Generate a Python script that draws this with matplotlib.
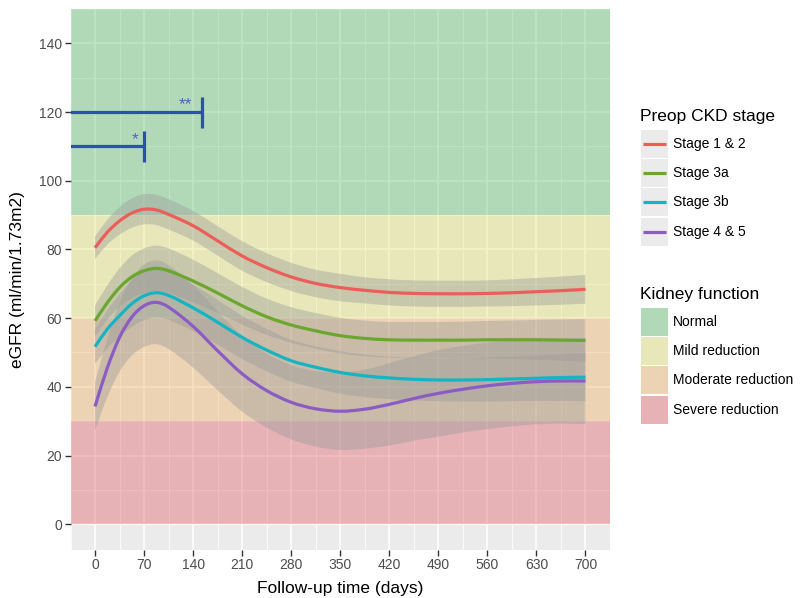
import matplotlib
matplotlib.use("Agg")
import matplotlib.pyplot as plt
from matplotlib.patches import Rectangle, PathPatch
from matplotlib.lines import Line2D
from matplotlib.path import Path
import numpy as np

plt.rcParams['font.family'] = ['Liberation Sans', 'DejaVu Sans']

# ---- data -------------------------------------------------------------
days = [0, 17.5, 35, 52.5, 70, 87.5, 105, 140, 175, 210, 245, 280, 315, 350,
        385, 420, 455, 490, 525, 560, 595, 630, 665, 700]

stage_names = ["Stage 1 & 2", "Stage 3a", "Stage 3b", "Stage 4 & 5"]
stage_colors = ["#EB5E5A", "#6BA72E", "#14B4C3", "#8A5CC4"]

egfr_stage12 = [80.5, 85.0, 88.3, 90.6, 91.7, 91.5, 90.2, 86.9, 82.5, 78.1, 74.7, 72.0,
                70.1, 68.9, 68.1, 67.5, 67.2, 67.1, 67.1, 67.2, 67.4, 67.7, 68.0, 68.4]
egfr_stage3a = [59.2, 64.5, 68.9, 72.0, 73.8, 74.5, 73.8, 70.8, 67.3, 63.6, 60.4, 58.0,
                56.3, 54.9, 54.1, 53.7, 53.6, 53.6, 53.6, 53.7, 53.7, 53.7, 53.6, 53.5]
egfr_stage3b = [51.7, 56.8, 60.7, 64.2, 66.5, 67.4, 66.6, 63.0, 58.8, 54.4, 50.7, 47.6,
                45.7, 44.2, 43.2, 42.6, 42.2, 42.0, 42.0, 42.1, 42.3, 42.5, 42.7, 42.8]
egfr_stage45 = [34.3, 45.5, 54.4, 60.3, 63.6, 64.6, 63.2, 57.6, 50.5, 43.8, 38.9, 35.5,
                33.6, 32.9, 33.5, 34.9, 36.6, 38.1, 39.3, 40.3, 41.0, 41.5, 41.7, 41.7]

# half-width of the 95% confidence band around each smooth
ci_stage12 = [3.3, 3.6, 4.0, 4.3, 4.4, 4.4, 4.4, 4.3, 4.3, 4.3, 4.2, 4.1,
              4.0, 4.0, 3.8, 3.8, 3.8, 3.8, 3.8, 3.8, 3.9, 4.0, 4.1, 4.2]
ci_stage3a = [4.5, 5.0, 5.6, 6.2, 6.5, 6.6, 6.5, 6.2, 5.8, 5.5, 5.3, 5.2,
              5.2, 5.2, 5.2, 5.2, 5.3, 5.3, 5.4, 5.5, 5.6, 5.8, 6.0, 6.2]
ci_stage3b = [5.0, 5.6, 6.2, 6.8, 7.1, 7.2, 7.1, 6.8, 6.5, 6.3, 6.2, 6.1,
              6.1, 6.2, 6.2, 6.2, 6.2, 6.2, 6.3, 6.4, 6.5, 6.6, 6.8, 7.0]
ci_stage45 = [7.0, 8.5, 10.0, 11.2, 12.0, 12.2, 12.2, 12.0, 11.5, 11.0, 10.8, 10.8,
              11.0, 11.3, 11.5, 12.0, 12.3, 12.6, 12.6, 12.6, 12.5, 12.4, 12.4, 12.6]

series = [egfr_stage12, egfr_stage3a, egfr_stage3b, egfr_stage45]
cis = [ci_stage12, ci_stage3a, ci_stage3b, ci_stage45]

# kidney function zones (eGFR ranges)
zone_names = ["Normal", "Mild reduction", "Moderate reduction", "Severe reduction"]
zone_lo = [90, 60, 30, 0]
zone_hi = [200, 90, 60, 30]
zone_colors = ["#48BA56", "#E2E25F", "#EEA94E", "#DD4854"]
zone_alpha = 0.35

# significance brackets: end day, eGFR level, label and label position
bracket_end = [152, 70]
bracket_level = [120, 110]
bracket_label = ["**", "*"]
bracket_label_day = [129, 57]

x_ticks = [0, 70, 140, 210, 280, 350, 420, 490, 560, 630, 700]
y_ticks = [0, 20, 40, 60, 80, 100, 120, 140]


def smooth_segments(x, y):
    """Cubic Bezier segments passing through (x, y), tangents from neighbours."""
    x = np.asarray(x, float)
    y = np.asarray(y, float)
    n = len(x)
    m = np.empty(n)
    m[1:-1] = (y[2:] - y[:-2]) / (x[2:] - x[:-2])
    m[0] = (y[1] - y[0]) / (x[1] - x[0])
    m[-1] = (y[-1] - y[-2]) / (x[-1] - x[-2])
    verts = [(x[0], y[0])]
    codes = [Path.MOVETO]
    for i in range(n - 1):
        h = x[i + 1] - x[i]
        verts += [(x[i] + h / 3, y[i] + m[i] * h / 3),
                  (x[i + 1] - h / 3, y[i + 1] - m[i + 1] * h / 3),
                  (x[i + 1], y[i + 1])]
        codes += [Path.CURVE4] * 3
    return verts, codes


# ---- figure -------------------------------------------------------------
W, H = 803, 598
fig = plt.figure(figsize=(W / 100, H / 100), dpi=100)
fig.patch.set_facecolor("white")


def fx(px):
    return px / W


def fy(py):
    return 1 - py / H


ax = fig.add_axes([fx(70.5), fy(550), fx(610) - fx(70.5), fy(9) - fy(550)])
ax.set_facecolor("#EBEBEB")
ax.set_xlim(-35, 735)
ax.set_ylim(-7.5, 150)

ax.set_xticks(x_ticks)
ax.set_yticks(y_ticks)
ax.set_xticks([t + 35 for t in x_ticks[:-1]] + [-35 + 0.001, 735 - 0.001], minor=True)
ax.set_yticks([10, 30, 50, 70, 90, 110, 130, 150 - 0.001], minor=True)
ax.grid(which="major", color="white", linewidth=1.1, zorder=0)
ax.grid(which="minor", color="white", linewidth=0.55, zorder=0)
ax.set_axisbelow(True)
for s in ax.spines.values():
    s.set_visible(False)
ax.tick_params(which="major", length=4, width=1, color="#333333",
               labelcolor="#4D4D4D", labelsize=10, pad=2)
ax.tick_params(which="minor", length=0)

# zones
for lo, hi, c in zip(zone_lo, zone_hi, zone_colors):
    ax.axhspan(lo, hi, color=c, alpha=zone_alpha, lw=0, zorder=1)

# confidence ribbons and smooth lines
d = np.array(days, float)
for vals, ci in zip(series, cis):
    v = np.array(vals)
    w = np.array(ci)
    up_v, up_c = smooth_segments(d, v + w)
    lo_v, lo_c = smooth_segments(d[::-1], (v - w)[::-1])
    verts = up_v + lo_v + [up_v[0]]
    codes = up_c + [Path.LINETO] + lo_c[1:] + [Path.CLOSEPOLY]
    ax.add_patch(PathPatch(Path(verts, codes), facecolor="#999999", alpha=0.4,
                           lw=0, zorder=2))
for vals, col in zip(series, stage_colors):
    pv, pc = smooth_segments(d, vals)
    ax.add_patch(PathPatch(Path(pv, pc), facecolor="none", edgecolor=col,
                           lw=2.3, zorder=3, capstyle="butt", joinstyle="round"))

# significance brackets
blue = "#2A50B0"
for end, lvl, lab, lx in zip(bracket_end, bracket_level, bracket_label,
                             bracket_label_day):
    ax.plot([-60, end], [lvl, lvl], color=blue, lw=2.3, zorder=4,
            solid_capstyle="butt")
    ax.plot([end, end], [lvl - 4.5, lvl + 4.5], color=blue, lw=2.3, zorder=4,
            solid_capstyle="butt")
    ax.text(lx, lvl + 0.8, lab, color="#4A66C0", fontsize=12.5,
            ha="center", va="baseline", zorder=5)

# axis titles
fig.text(fx(340), fy(588), "Follow-up time (days)", fontsize=12.5,
         ha="center", va="center", color="black")
fig.text(fx(18), fy(280), "eGFR (ml/min/1.73m2)", fontsize=12.5,
         ha="center", va="center", rotation=90, color="black")

# ---- legends ------------------------------------------------------------
key_x, key_w, key_h, key_step = 641, 27, 28, 29.2
label_x = 673

fig.text(fx(640), fy(116), "Preop CKD stage", fontsize=12.5,
         ha="left", va="center", color="black")
for i, (name, col) in enumerate(zip(stage_names, stage_colors)):
    top = 130 + i * key_step
    fig.add_artist(Rectangle((fx(key_x), fy(top + key_h)), key_w / W, key_h / H,
                             transform=fig.transFigure, facecolor="#EBEBEB",
                             edgecolor="none"))
    yc = top + key_h / 2
    fig.add_artist(Line2D([fx(key_x + 2), fx(key_x + key_w - 2)], [fy(yc), fy(yc)],
                          transform=fig.transFigure, color=col, lw=2.3,
                          solid_capstyle="butt"))
    fig.text(fx(label_x), fy(yc), name, fontsize=10, ha="left", va="center",
             color="black")

fig.text(fx(640), fy(295), "Kidney function", fontsize=12.5,
         ha="left", va="center", color="black")
for i, (name, col) in enumerate(zip(zone_names, zone_colors)):
    top = 308 + i * key_step
    fig.add_artist(Rectangle((fx(key_x), fy(top + key_h)), key_w / W, key_h / H,
                             transform=fig.transFigure, facecolor="#EBEBEB",
                             edgecolor="none"))
    fig.add_artist(Rectangle((fx(key_x), fy(top + key_h)), key_w / W, key_h / H,
                             transform=fig.transFigure, facecolor=col,
                             alpha=zone_alpha, edgecolor="none"))
    yc = top + key_h / 2
    fig.text(fx(label_x), fy(yc), name, fontsize=10, ha="left", va="center",
             color="black")

fig.savefig("out.png", dpi=100)
